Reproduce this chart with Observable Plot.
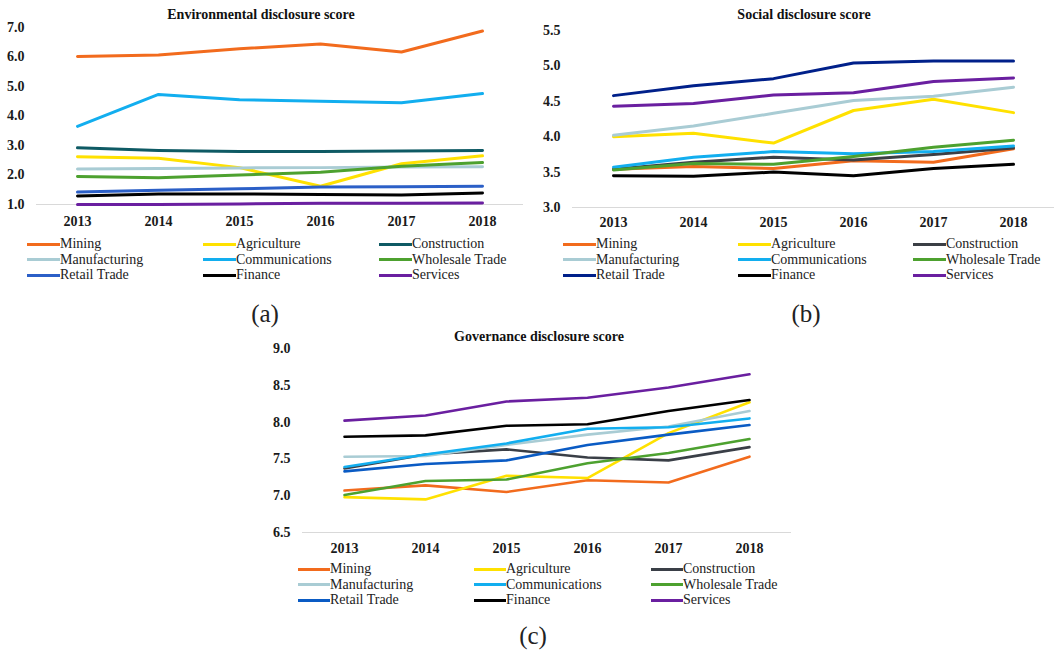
<!DOCTYPE html>
<html><head><meta charset="utf-8">
<script src="https://cdn.jsdelivr.net/npm/d3@7"></script>
<script src="https://cdn.jsdelivr.net/npm/@observablehq/plot@0.6"></script>
<style>
body{margin:0;background:#fff;width:1059px;height:650px;position:relative;overflow:hidden;font-family:"Liberation Serif","Times New Roman",serif;}
.abs{position:absolute;}
.title{font-weight:bold;font-size:14px;color:#111;transform:translate(-50%,-50%);white-space:nowrap;}
.leg{font-size:14px;color:#222;display:flex;align-items:center;transform:translateY(-50%);white-space:nowrap;line-height:1;}
.sw{display:inline-block;height:3px;}
.plabel{font-size:25px;color:#222;transform:translate(-50%,-50%);}
</style></head><body>
<script>
const years = ["2013","2014","2015","2016","2017","2018"];
const sectors = ["Mining","Agriculture","Construction","Manufacturing","Communications","Wholesale Trade","Retail Trade","Finance","Services"];

// Environmental disclosure score (rows follow sectors)
const envValues = [
  [6.02, 6.07, 6.28, 6.44, 6.17, 6.88],
  [2.62, 2.57, 2.25, 1.62, 2.38, 2.65],
  [2.92, 2.83, 2.80, 2.80, 2.81, 2.83],
  [2.20, 2.22, 2.24, 2.25, 2.27, 2.28],
  [3.65, 4.73, 4.55, 4.50, 4.45, 4.76],
  [1.95, 1.91, 2.00, 2.09, 2.30, 2.42],
  [1.42, 1.48, 1.53, 1.59, 1.60, 1.62],
  [1.29, 1.36, 1.36, 1.34, 1.32, 1.39],
  [1.00, 1.00, 1.02, 1.04, 1.04, 1.05]
];
// Social disclosure score
const socValues = [
  [3.54, 3.58, 3.55, 3.66, 3.64, 3.83],
  [4.00, 4.05, 3.91, 4.37, 4.53, 4.34],
  [3.54, 3.64, 3.71, 3.67, 3.75, 3.84],
  [4.02, 4.15, 4.33, 4.51, 4.57, 4.70],
  [3.57, 3.71, 3.79, 3.76, 3.79, 3.87],
  [3.53, 3.62, 3.61, 3.72, 3.85, 3.95],
  [4.58, 4.72, 4.82, 5.04, 5.07, 5.07],
  [3.45, 3.44, 3.50, 3.45, 3.55, 3.61],
  [4.43, 4.47, 4.59, 4.62, 4.78, 4.83]
];
// Governance disclosure score
const govValues = [
  [7.07, 7.14, 7.05, 7.21, 7.18, 7.53],
  [6.98, 6.95, 7.27, 7.24, 7.85, 8.27],
  [7.37, 7.56, 7.63, 7.52, 7.48, 7.66],
  [7.53, 7.54, 7.69, 7.83, 7.94, 8.15],
  [7.39, 7.56, 7.71, 7.91, 7.93, 8.05],
  [7.01, 7.20, 7.22, 7.44, 7.58, 7.77],
  [7.33, 7.43, 7.48, 7.69, 7.83, 7.96],
  [7.80, 7.82, 7.95, 7.97, 8.15, 8.30],
  [8.02, 8.09, 8.28, 8.33, 8.47, 8.65]
];
const envTicks = [1,2,3,4,5,6,7];
const socTicks = [3.0,3.5,4.0,4.5,5.0,5.5];
const govTicks = [6.5,7.0,7.5,8.0,8.5,9.0];

const colorsA = ["#F26B1D","#FFE100","#0E5A64","#A9CCD4","#12AEEF","#4DA12F","#2B5FC7","#000000","#6A1FA0"];
const colorsB = ["#F26B1D","#FFE100","#3B3F45","#A9CCD4","#12AEEF","#4DA12F","#00208A","#000000","#6A1FA0"];
const colorsC = ["#F26B1D","#FFE100","#3A3F47","#A9CCD4","#12AEEF","#4DA12F","#0A5BC4","#000000","#6A1FA0"];

function add(el, left, top){ el.style.position="absolute"; el.style.left=left+"px"; el.style.top=top+"px"; document.body.appendChild(el); return el; }

function panel(o){
  const data = [];
  sectors.forEach((s,i)=> years.forEach((y,j)=> data.push({sector:s, year:y, value:o.values[i][j]})));
  const chart = Plot.plot({
    width:o.width, height:o.height,
    marginLeft:o.ml, marginRight:o.mr, marginTop:o.mt, marginBottom:o.mb,
    style:{fontFamily:"'Liberation Serif', serif", fontSize:"14px", fontWeight:"bold", color:"#1a1a1a", background:"transparent", overflow:"visible"},
    x:{type:"point", domain:years, padding:0.5, label:null, tickSize:0, tickPadding:o.xpad},
    y:{domain:[o.ticks[0], o.ticks[o.ticks.length-1]], ticks:o.ticks, tickFormat:d=>d.toFixed(1), label:null, tickSize:0, tickPadding:12},
    color:{domain:sectors, range:o.colors},
    marks:[
      Plot.ruleY([o.ticks[0]], {stroke:"#d9d9d9", strokeWidth:1}),
      Plot.line(data, {x:"year", y:"value", z:"sector", stroke:"sector", strokeWidth:o.sw, strokeLinejoin:"round", strokeLinecap:"round"})
    ]
  });
  add(chart, o.left, o.top);
  const t = document.createElement("div"); t.className="title"; t.textContent=o.title; add(t, o.tx, o.ty);
  sectors.forEach((s,i)=>{
    const r = Math.floor(i/3), c = i%3;
    const d = document.createElement("div"); d.className="leg";
    const sw = document.createElement("span"); sw.className="sw"; sw.style.width=(o.swW)+"px"; sw.style.background=o.colors[i];
    const tx = document.createElement("span"); tx.textContent=s;
    d.appendChild(sw); d.appendChild(tx);
    add(d, o.legX[c], o.legY + r*15.5);
  });
  const p = document.createElement("div"); p.className="plabel"; p.textContent=o.label; add(p, o.px, o.py);
}

panel({values:envValues, ticks:envTicks, colors:colorsA, title:"Environmental disclosure score", label:"(a)",
  left:0, top:0, width:530, height:235, ml:36, mr:7, mt:27, mb:31, xpad:12, sw:3,
  tx:261, ty:15, legX:[27,203,379], legY:244, swW:33, px:265, py:314});
panel({values:socValues, ticks:socTicks, colors:colorsB, title:"Social disclosure score", label:"(b)",
  left:530, top:0, width:529, height:235, ml:42, mr:5, mt:30, mb:28, xpad:10, sw:3,
  tx:804, ty:15, legX:[563,738,913], legY:244, swW:33, px:806, py:314});
panel({values:govValues, ticks:govTicks, colors:colorsC, title:"Governance disclosure score", label:"(c)",
  left:250, top:320, width:550, height:235, ml:52, mr:9, mt:28, mb:23, xpad:11, sw:2.6,
  tx:539, ty:337, legX:[298,474,651], legY:569, swW:32, px:533, py:636});
</script>
</body></html>
